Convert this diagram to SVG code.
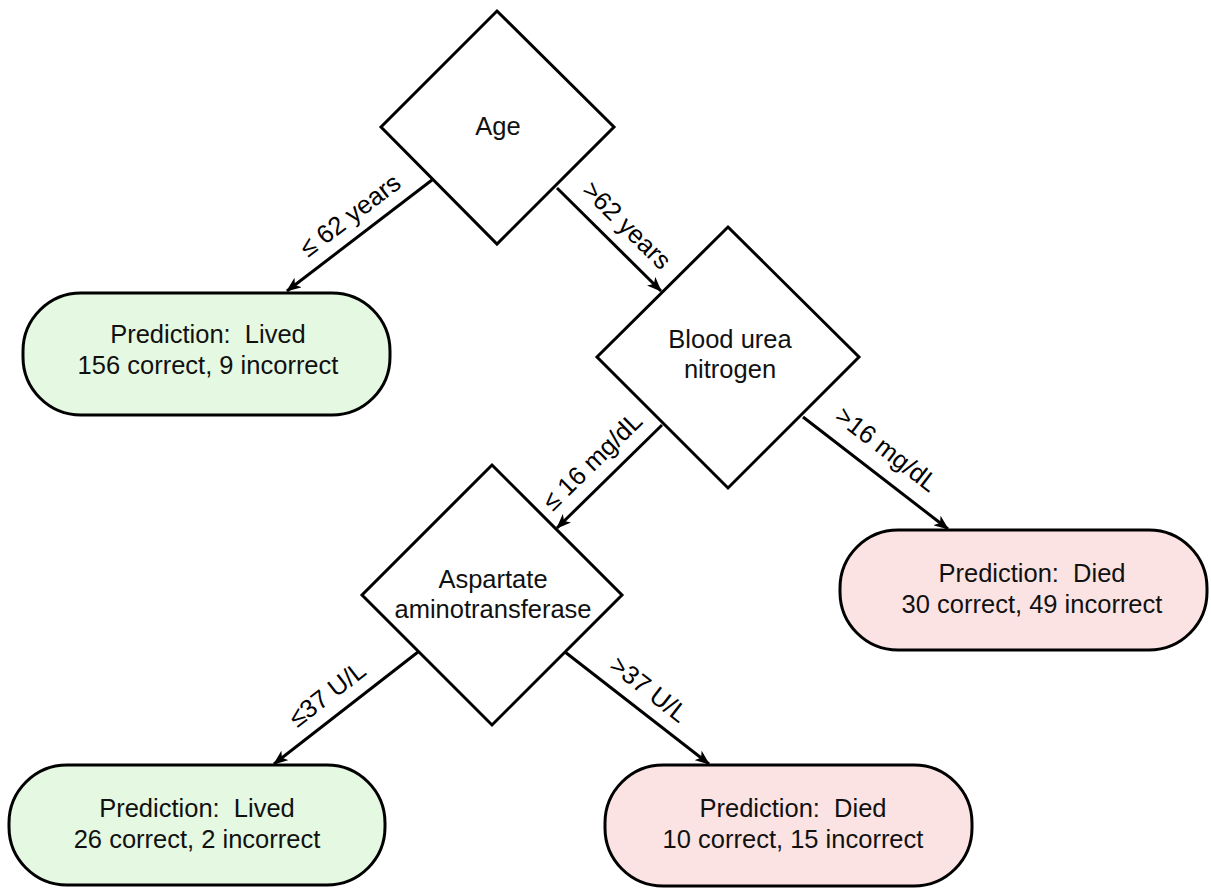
<svg xmlns="http://www.w3.org/2000/svg" width="1211" height="889" viewBox="0 0 1211 889">
<style>
.bg{fill:#ffffff}
.dia{fill:#ffffff;stroke:#000;stroke-width:3;stroke-linejoin:miter}
.live{fill:#e5f8e1;stroke:#000;stroke-width:3}
.died{fill:#fbe3e3;stroke:#000;stroke-width:3}
.t{font-family:"Liberation Sans",Arial,sans-serif;font-size:25.5px;fill:#111;text-anchor:middle;white-space:pre}
.edge{stroke:#000;stroke-width:3;fill:none;marker-end:url(#ah)}
.lbl{font-family:"Liberation Sans",Arial,sans-serif;font-size:25.5px;fill:#000;text-anchor:middle}
</style>
<defs>
<marker id="ah" markerWidth="16" markerHeight="12" refX="14" refY="6" orient="auto" markerUnits="userSpaceOnUse">
<path d="M0,0 L15,6 L0,12 L4,6 Z" fill="#000"/>
</marker>
</defs>
<rect class="bg" x="0" y="0" width="1211" height="889"/>

<g id="connectors">
<line class="edge" x1="432" y1="180" x2="287" y2="291"/>
<line class="edge" x1="557" y1="188" x2="661" y2="291"/>
<line class="edge" x1="662" y1="425" x2="557" y2="528"/>
<line class="edge" x1="803" y1="417" x2="948" y2="529"/>
<line class="edge" x1="418" y1="652" x2="274" y2="764"/>
<line class="edge" x1="565" y1="652" x2="709" y2="764"/>
<text class="lbl" transform="translate(350,215) rotate(-37.2)" dy="0.35em">≤ 62 years</text>
<text class="lbl" transform="translate(627,225) rotate(44.7)" dy="0.35em">&gt;62 years</text>
<text class="lbl" transform="translate(592,461) rotate(-44.4)" dy="0.35em">≤ 16 mg/dL</text>
<text class="lbl" transform="translate(887,449) rotate(37.6)" dy="0.35em">&gt;16 mg/dL</text>
<text class="lbl" transform="translate(327,694) rotate(-37.8)" dy="0.35em">≤37 U/L</text>
<text class="lbl" transform="translate(649,689) rotate(37.8)" dy="0.35em">&gt;37 U/L</text>
</g>

<g id="age">
<polygon class="dia" points="497,11 614,127 497,244 381,127"/>
<text class="t" x="498" y="135">Age</text>
</g>

<g id="bun">
<polygon class="dia" points="728,227 859,357 728,488 597,357"/>
<text class="t" x="730" y="348">Blood urea</text>
<text class="t" x="730" y="378">nitrogen</text>
</g>

<g id="ast">
<polygon class="dia" points="492,465 622,595 492,725 362,595"/>
<text class="t" x="493" y="588">Aspartate</text>
<text class="t" x="493" y="618">aminotransferase</text>
</g>

<g id="lived1">
<rect class="live" x="23" y="293" width="367" height="122" rx="58" ry="58"/>
<text class="t" x="208" y="343">Prediction:  Lived</text>
<text class="t" x="208" y="374">156 correct, 9 incorrect</text>
</g>

<g id="died1">
<rect class="died" x="840" y="530" width="367" height="120" rx="58" ry="58"/>
<text class="t" x="1032" y="582">Prediction:  Died</text>
<text class="t" x="1032" y="613">30 correct, 49 incorrect</text>
</g>

<g id="lived2">
<rect class="live" x="9" y="765" width="376" height="120" rx="58" ry="58"/>
<text class="t" x="197" y="817">Prediction:  Lived</text>
<text class="t" x="197" y="848">26 correct, 2 incorrect</text>
</g>

<g id="died2">
<rect class="died" x="605" y="765" width="367" height="121" rx="58" ry="58"/>
<text class="t" x="793" y="817">Prediction:  Died</text>
<text class="t" x="793" y="848">10 correct, 15 incorrect</text>
</g>
</svg>
